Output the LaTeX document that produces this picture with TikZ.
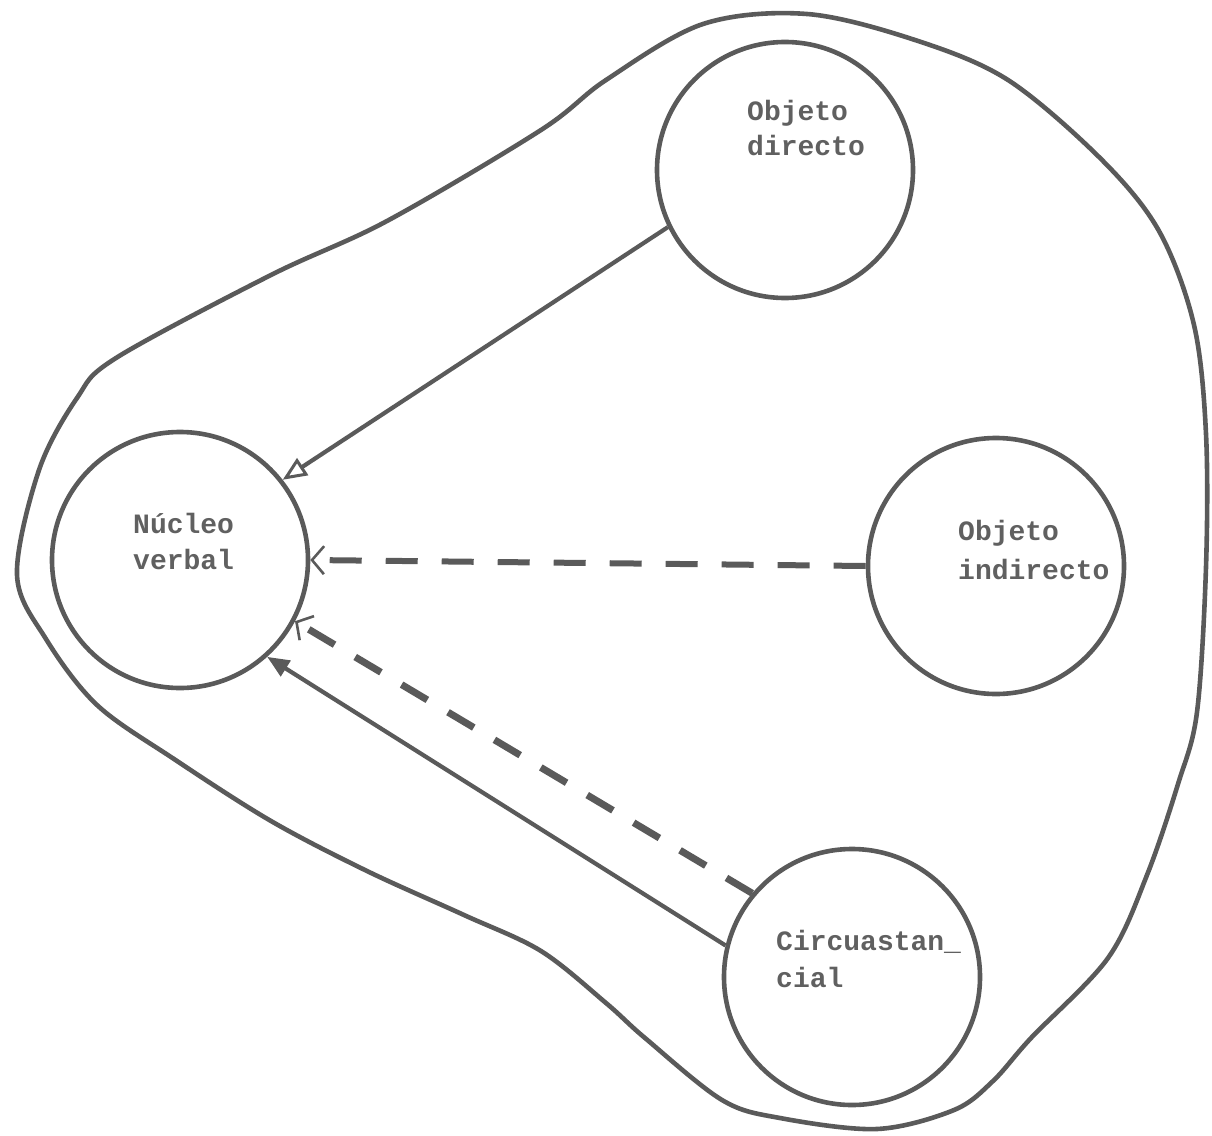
\documentclass[tikz,border=0pt]{standalone}
\usepackage{fontspec}
\setmonofont{Liberation Mono}
\usetikzlibrary{arrows.meta}
\definecolor{ink}{HTML}{5A5A5A}
\definecolor{txt}{HTML}{606060}
\tikzset{
  bubble/.style={circle,draw=ink,line width=4.6pt,minimum size=256pt,inner sep=0pt},
  lbl/.style={anchor=base west,inner sep=0pt,text=txt,font=\ttfamily\bfseries\fontsize{28}{40}\selectfont},
  fullarrow/.style={draw=ink,line width=4.2pt},
  dasharrow/.style={draw=ink,line width=6pt,dash pattern=on 32pt off 24pt},
  hollowtip/.style={-{Triangle[open,length=24pt,width=20pt,line width=3pt]}},
  filledtip/.style={-{Triangle[length=22pt,width=18pt]}},
  barbtip/.style={-{Straight Barb[length=12pt,width=28pt,line width=2.6pt]}}
}
\begin{document}
\begin{tikzpicture}[x=1pt,y=-1pt]
\useasboundingbox (0,0) rectangle (1212,1135);
% outer blob
\draw[ink,line width=4.6pt] plot[smooth cycle,tension=0.55] coordinates {
(17,575) (39,470) (77,398) (116,358) (271,275) (387,221) (541,130) (606,80)
(703,24) (807,14) (915,40) (1008,80) (1101,159) (1159,231) (1194,325)
(1206,434) (1206,567) (1197,712) (1178,784) (1147,875) (1108,958) (1031,1038)
(993,1081) (954,1110) (877,1129) (780,1118) (722,1100) (645,1038) (606,1003)
(541,951) (464,915) (367,871) (271,821) (174,759) (97,705) (46,639)};
% circles
\node[bubble] (nv) at (180,560) {};
\node[bubble] (od) at (785,170) {};
\node[bubble] (oi) at (996,566) {};
\node[bubble] (ci) at (852,977) {};
% labels
\node[lbl] (t1a) at (133,533) {Núcleo};
\node[lbl] (t1b) at (133,569) {verbal};
\node[lbl] (t2a) at (747,120) {Objeto};
\node[lbl] (t2b) at (747,155) {directo};
\node[lbl] (t3a) at (958,540) {Objeto};
\node[lbl] (t3b) at (958,579) {indirecto};
\node[lbl] (t4a) at (776,950) {Circuastan\_};
\node[lbl] (t4b) at (776,987) {cial};
% connectors
\draw[fullarrow,hollowtip] (od.206) -- (nv.38);
\draw[dasharrow,barbtip] (oi.180) -- (nv.0);
\draw[dasharrow,barbtip,line width=7pt,dash pattern=on 30pt off 24pt] (ci.140) -- (nv.-28);
\draw[fullarrow,filledtip] (ci.166) -- (nv.-48);
\end{tikzpicture}
\end{document}
